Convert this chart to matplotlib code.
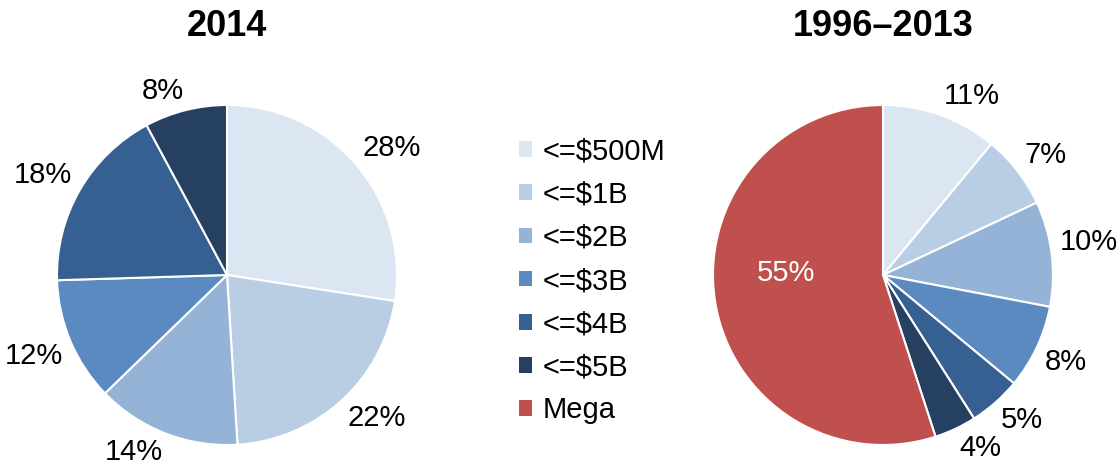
import numpy as np
import matplotlib.pyplot as plt
from matplotlib.patches import Patch

plt.rcParams['font.family'] = ['Liberation Sans', 'DejaVu Sans']

categories = ['<=$500M', '<=$1B', '<=$2B', '<=$3B', '<=$4B', '<=$5B', 'Mega']
colors = ['#DCE6F2', '#B9CDE5', '#95B3D7', '#5B8AC1', '#366092', '#254061', '#C0504D']

vals_2014 = [28, 22, 14, 12, 18, 8]
labels_2014 = ['28%', '22%', '14%', '12%', '18%', '8%']
vals_hist = [11, 7, 10, 8, 5, 4, 55]
labels_hist = ['11%', '7%', '10%', '8%', '5%', '4%', '55%']

W, H = 1120, 467
R = 170
fig = plt.figure(figsize=(W / 100, H / 100), dpi=100)
renderer = fig.canvas.get_renderer()


def pie_axes(cx, cy, r):
    ax = fig.add_axes([(cx - r) / W, (H - cy - r) / H, 2 * r / W, 2 * r / H])
    return ax


def fix_limits(ax):
    ax.set_xlim(-1, 1)
    ax.set_ylim(-1, 1)
    ax.set_aspect('equal')
    ax.axis('off')


def place_outside(wedges, texts, skip=()):
    # put the nearest corner of each label just outside the rim (Excel style)
    for i, (w, t) in enumerate(zip(wedges, texts)):
        if i in skip:
            continue
        ang = np.deg2rad((w.theta1 + w.theta2) / 2)
        c, s = np.cos(ang), np.sin(ang)
        t.set_ha('center')
        t.set_va('center')
        bb = t.get_window_extent(renderer)
        hw = bb.width / 2 / R
        hh = 11 / R
        t.set_position((1.05 * c + np.sign(c) * hw, 1.05 * s + np.sign(s) * hh))


ax1 = pie_axes(227, 275, R)
w1, t1 = ax1.pie(vals_2014, labels=labels_2014, colors=colors[:6], startangle=90,
                 counterclock=False, labeldistance=1.1,
                 wedgeprops=dict(edgecolor='white', linewidth=1.5),
                 textprops=dict(fontsize=21, color='black'))
fix_limits(ax1)
place_outside(w1, t1)

ax2 = pie_axes(883, 275, R)
w2, t2 = ax2.pie(vals_hist, labels=labels_hist, colors=colors, startangle=90,
                 counterclock=False, labeldistance=1.1,
                 wedgeprops=dict(edgecolor='white', linewidth=1.5),
                 textprops=dict(fontsize=21, color='black'))
fix_limits(ax2)
place_outside(w2, t2, skip=(6,))
# Mega label sits inside the slice in white
t2[-1].set_position((-0.57, 0.01))
t2[-1].set_ha('center')
t2[-1].set_color('white')

fig.text(227 / W, 1 - 27 / H, '2014', ha='center', va='center', fontsize=26, fontweight='bold')
fig.text(883 / W, 1 - 27 / H, '1996\u20132013', ha='center', va='center', fontsize=26, fontweight='bold')

handles = [Patch(facecolor=c, edgecolor='none') for c in colors]
fig.legend(handles, categories, loc='center', bbox_to_anchor=(592 / W, 1 - 281 / H),
           frameon=False, fontsize=21, handlelength=0.45, handleheight=0.45,
           handletextpad=0.35, labelspacing=0.52)

fig.savefig('out.png', dpi=100)
